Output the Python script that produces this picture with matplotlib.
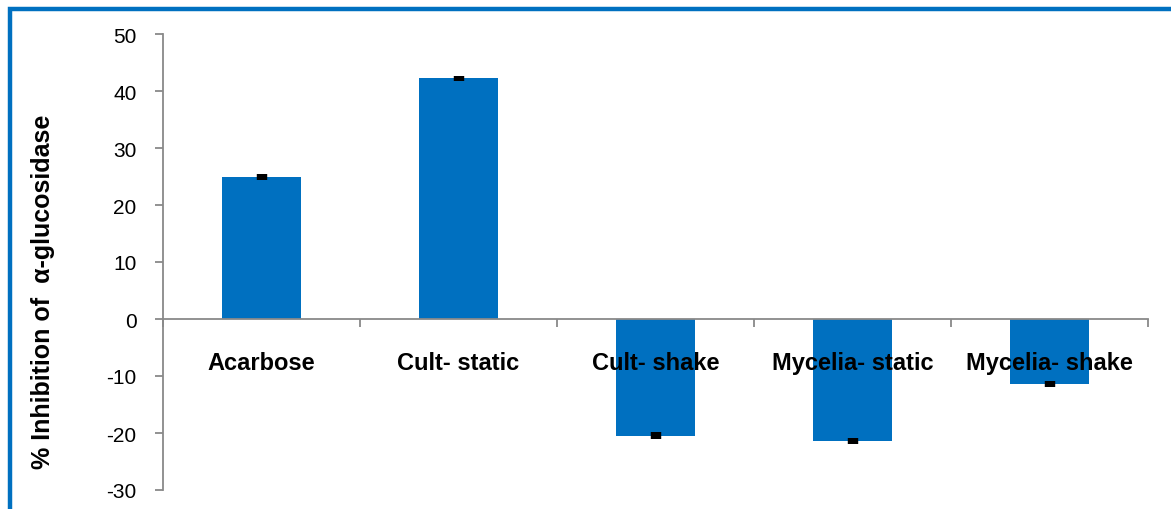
import matplotlib
matplotlib.use('Agg')
import matplotlib.pyplot as plt
from matplotlib.patches import Rectangle
import numpy as np

# Data
samples = ['Acarbose', 'Cult- static', 'Cult- shake', 'Mycelia- static', 'Mycelia- shake']
inhibition = [24.9, 42.2, -20.5, -21.4, -11.4]
errors = [0.5, 0.5, 0.6, 0.6, 0.5]
y_ticks = [-30, -20, -10, 0, 10, 20, 30, 40, 50]

bar_color = '#0070C0'
axis_color = '#898989'
plt.rcParams['font.family'] = ['Liberation Sans Narrow', 'Liberation Sans', 'DejaVu Sans']

fig = plt.figure(figsize=(11.71, 5.10), dpi=100)
ax = fig.add_axes([163 / 1171, 1 - 491 / 510, (1148 - 163) / 1171, (491 - 35) / 510])

x = np.arange(len(samples))
ax.bar(x, inhibition, width=0.4, color=bar_color, zorder=1)
ax.errorbar(x, inhibition, yerr=errors, fmt='none', ecolor='black',
            elinewidth=7.5, capsize=0, zorder=1.2)

ax.set_xlim(-0.5, len(samples) - 0.5)
ax.set_ylim(-30, 50)
ax.set_yticks(y_ticks)
ax.set_yticklabels([str(v) for v in y_ticks])
ax.tick_params(axis='y', length=6, direction='out', color=axis_color, width=1.3, pad=13, labelsize=15)

# tick marks at the category boundaries, labels written just below the zero line
ax.set_xticks(np.arange(-0.5, len(samples)))
ax.set_xticklabels([])
ax.tick_params(axis='x', length=6, direction='out', color=axis_color, width=1.3)
for xi, name in zip(x, samples):
    ax.annotate(name, xy=(xi, 0), xytext=(0, -31), textcoords='offset points',
                ha='center', va='center', fontsize=17, fontweight='bold', zorder=5)

for s in ['top', 'right']:
    ax.spines[s].set_visible(False)
ax.spines['bottom'].set_position(('data', 0))
for s in ['left', 'bottom']:
    ax.spines[s].set_color(axis_color)
    ax.spines[s].set_linewidth(1.3)

fig.text(43 / 1171, 1 - 292 / 510, '% Inhibition of  \u03b1-glucosidase', rotation=90,
         ha='center', va='center', fontsize=18, fontweight='bold')

# Blue frame around the chart area
fig.patches.append(Rectangle((10 / 1171, -0.1), 1.2, 1.1 - 10 / 510, transform=fig.transFigure,
                             fill=False, edgecolor=bar_color, linewidth=3.2, zorder=10))

plt.savefig('out.png', dpi=100)
